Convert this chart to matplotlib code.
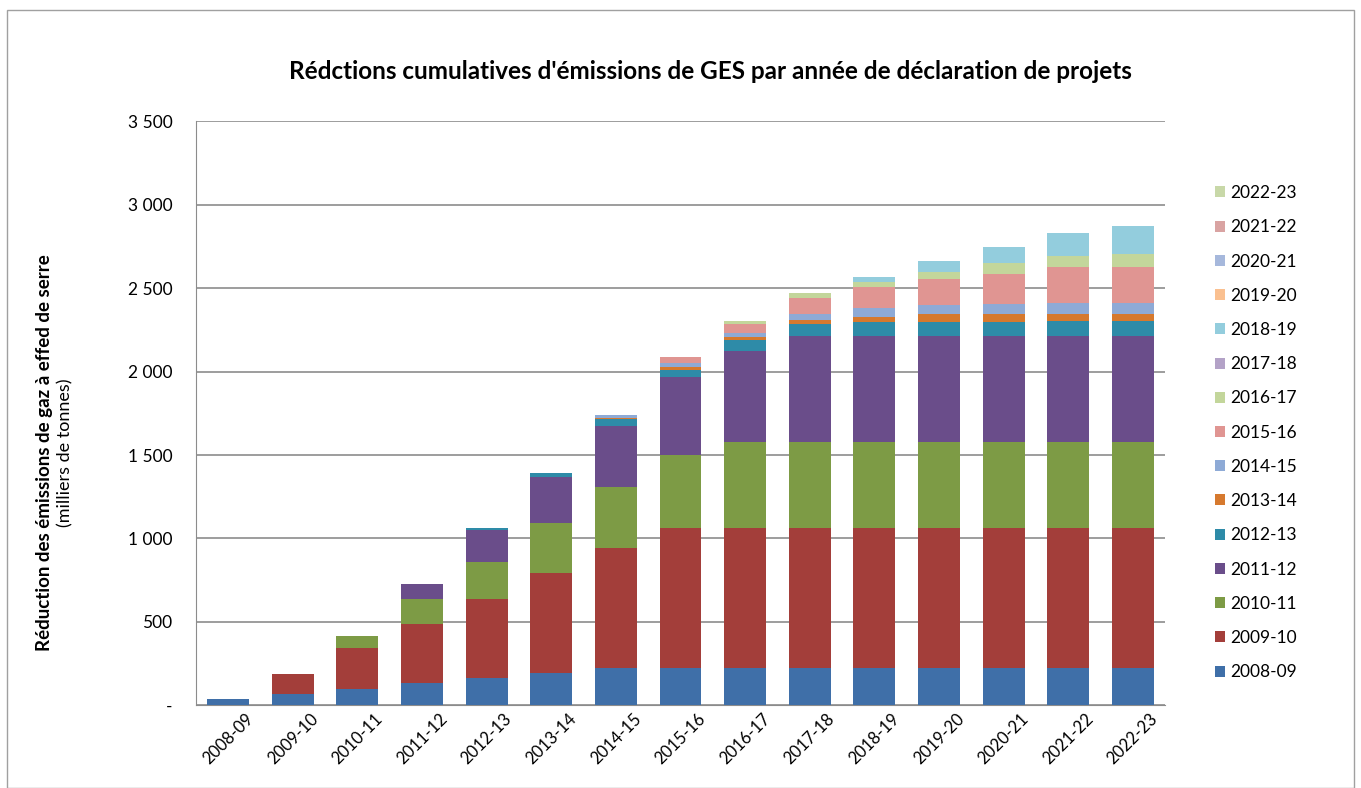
import numpy as np
import matplotlib.pyplot as plt
import matplotlib.patches as mpatches

plt.rcParams['font.family'] = ['Lato', 'DejaVu Sans']

years = ['2008-09', '2009-10', '2010-11', '2011-12', '2012-13', '2013-14', '2014-15',
         '2015-16', '2016-17', '2017-18', '2018-19', '2019-20', '2020-21', '2021-22', '2022-23']

# reductions (milliers de tonnes) by project declaration year, one list per series
s2008 = [35, 70, 100, 132, 162, 195, 222, 222, 222, 222, 222, 222, 222, 222, 222]
s2009 = [0, 120, 242, 354, 474, 596, 718, 840, 840, 840, 840, 840, 840, 840, 840]
s2010 = [0, 0, 72, 150, 222, 299, 366, 438, 516, 516, 516, 516, 516, 516, 516]
s2011 = [0, 0, 0, 90, 192, 276, 365, 466, 543, 638, 638, 638, 638, 638, 638]
s2012 = [0, 0, 0, 0, 10, 24, 42, 41, 66, 72, 84, 84, 84, 86, 86]
s2013 = [0, 0, 0, 0, 0, 4, 10, 18, 18, 23, 30, 44, 44, 42, 42]
s2014 = [0, 0, 0, 0, 0, 0, 14, 24, 29, 36, 50, 54, 64, 66, 66]
s2015 = [0, 0, 0, 0, 0, 0, 0, 36, 54, 97, 125, 155, 180, 215, 215]
s2016 = [0, 0, 0, 0, 0, 0, 0, 0, 18, 30, 30, 42, 60, 65, 79]
s2017 = [0, 0, 0, 0, 0, 0, 0, 0, 0, 0, 0, 0, 0, 0, 0]
s2018 = [0, 0, 0, 0, 0, 0, 0, 0, 0, 0, 35, 66, 96, 140, 168]
s2019 = [0] * 15
s2020 = [0] * 15
s2021 = [0] * 15
s2022 = [0] * 15

series = [s2008, s2009, s2010, s2011, s2012, s2013, s2014, s2015,
          s2016, s2017, s2018, s2019, s2020, s2021, s2022]
colors = ['#3f6fa8', '#a33e3a', '#7d9b45', '#6a4d8a', '#2e8ba8', '#d6792e', '#8eaad6',
          '#e09592', '#c3d69b', '#b3a2c7', '#93cddd', '#fac090', '#a6b8dc', '#d9a3a2', '#c8d8a8']

fig = plt.figure(figsize=(13.61, 7.88), dpi=100)
ax = fig.add_axes([0.144, 0.105, 0.712, 0.741])

x = np.arange(len(years))
bottom = np.zeros(len(years))
handles = []
for lab, vals, col in zip(years, series, colors):
    vals = np.array(vals, dtype=float)
    b = ax.bar(x, vals, bottom=bottom, width=0.65, color=col, label=lab, zorder=3)
    handles.append(b)
    bottom += vals

ax.set_xlim(-0.5, len(years) - 0.5)
ax.set_ylim(0, 3500)
yt = np.arange(0, 3501, 500)
ax.set_yticks(yt)
ax.set_yticklabels(['-'] + ['{:,}'.format(v).replace(',', ' ') for v in yt[1:]], fontsize=12.5)
ax.set_xticks(x)
ax.set_xticklabels(years, rotation=45, fontsize=12)
ax.grid(axis='y', color='#8c8c8c', linewidth=1.2, zorder=0)
for s in ['top', 'right']:
    ax.spines[s].set_visible(False)
for s in ['left', 'bottom']:
    ax.spines[s].set_color('#8c8c8c')
ax.tick_params(axis='y', length=0, pad=17)
ax.tick_params(axis='x', length=0, pad=4)

fig.text(0.522, 0.909, "Rédctions cumulatives d'émissions de GES par année de déclaration de projets",
         ha='center', va='center', fontsize=17.5, fontweight='bold')
fig.text(0.033, 0.425, 'Réduction des émissions de gaz à effed de serre', rotation=90,
         ha='center', va='center', fontsize=13.5, fontweight='bold')
fig.text(0.048, 0.425, '(milliers de tonnes)', rotation=90, ha='center', va='center', fontsize=13)

fig.legend(handles[::-1], years[::-1], loc='upper left', bbox_to_anchor=(0.881, 0.785),
           frameon=False, fontsize=12.5, handlelength=0.6, handleheight=0.6,
           handletextpad=0.3, labelspacing=1.05)

fig.patches.append(mpatches.Rectangle((0.005, 0.0), 0.99, 0.987, transform=fig.transFigure,
                                      fill=False, edgecolor='#a0a0a0', linewidth=1))

fig.savefig('out.png', dpi=100)
